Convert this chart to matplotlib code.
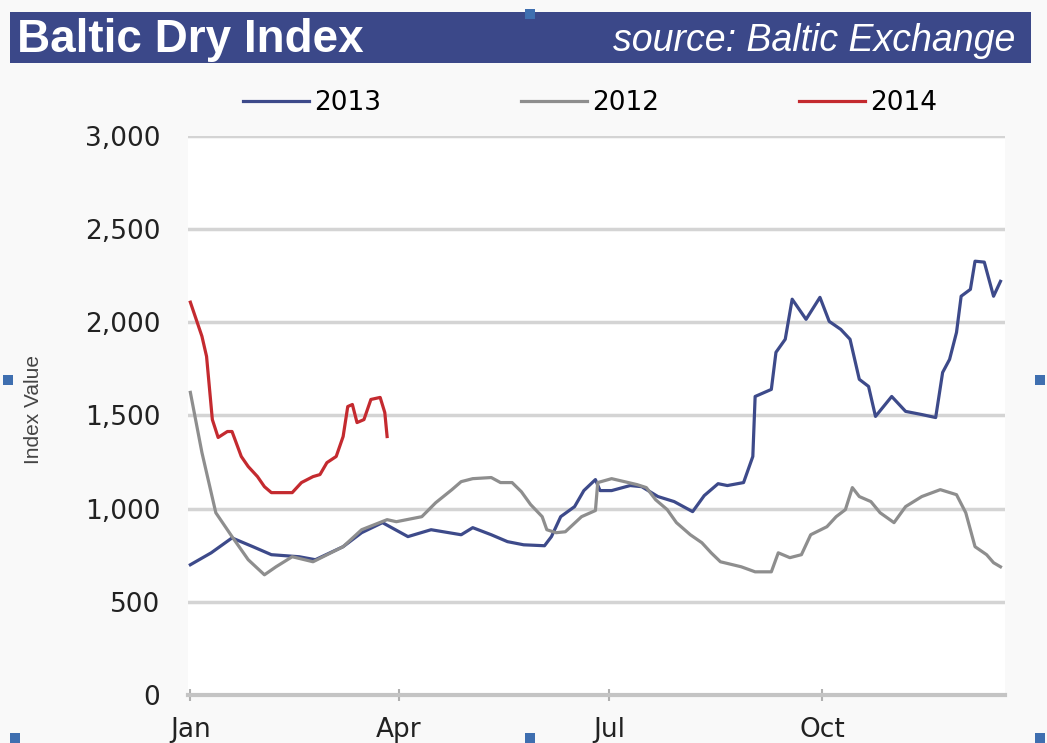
import matplotlib.pyplot as plt
from matplotlib.patches import Rectangle

plt.rcParams["font.family"] = ["Liberation Sans", "DejaVu Sans"]

# day-of-year positions and index values
days_2013 = [0, 9, 18, 27, 35, 47, 54, 66, 74, 83, 94, 104, 117, 122, 130, 137, 144, 153,
             156, 160, 166, 170, 175, 177, 182, 190, 195, 202, 209, 217, 222, 228, 232,
             239, 243, 244, 251, 253, 257, 260, 266, 272, 276, 281, 285, 289, 293, 296,
             303, 309, 316, 322, 325, 328, 331, 333, 337, 339, 343, 347, 350]
bdi_2013 = [699, 763, 843, 796, 753, 742, 726, 796, 871, 925, 850, 887, 860, 898, 860, 823,
            806, 801, 850, 957, 1011, 1097, 1156, 1097, 1097, 1124, 1118, 1065, 1038, 984,
            1070, 1134, 1124, 1140, 1280, 1602, 1640, 1839, 1909, 2124, 2016, 2134, 2005,
            1962, 1909, 1694, 1656, 1495, 1602, 1522, 1505, 1489, 1731, 1801, 1946, 2140,
            2177, 2328, 2323, 2140, 2220]

days_2012 = [0, 5, 11, 18, 25, 32, 37, 44, 53, 66, 74, 85, 89, 100, 106, 113, 117, 122,
             130, 134, 139, 143, 147, 152, 154, 158, 162, 169, 175, 176, 182, 193, 197,
             201, 206, 210, 216, 221, 225, 229, 238, 244, 251, 254, 259, 264, 268, 275,
             279, 283, 286, 289, 294, 298, 304, 309, 316, 324, 331, 335, 339, 344, 347, 350]
bdi_2012 = [1624, 1301, 978, 850, 726, 645, 688, 742, 715, 796, 887, 941, 930, 957, 1032,
            1102, 1145, 1161, 1167, 1140, 1140, 1091, 1022, 957, 887, 871, 876, 957, 990,
            1140, 1161, 1129, 1113, 1048, 995, 925, 860, 817, 763, 715, 688, 661, 661, 763,
            737, 753, 860, 903, 957, 995, 1113, 1065, 1038, 978, 925, 1011, 1065, 1102,
            1075, 978, 796, 753, 710, 688]

days_2014 = [0, 5, 7, 9.5, 12, 16, 18, 22, 25, 29, 32, 35, 44, 48, 53, 56, 59, 63, 66, 68,
             70, 72, 75, 78, 82, 84, 85]
bdi_2014 = [2108, 1925, 1817, 1478, 1382, 1414, 1414, 1280, 1226, 1172, 1118, 1086, 1086,
            1140, 1172, 1183, 1247, 1280, 1387, 1548, 1559, 1462, 1478, 1586, 1597, 1516, 1387]

month_ticks = [0, 90, 181, 273]
month_labels = ["Jan", "Apr", "Jul", "Oct"]
y_ticks = [0, 500, 1000, 1500, 2000, 2500, 3000]

BLUE = "#3d4a8a"
GRAY = "#8e8e8e"
RED = "#c42a2f"
BAR = "#3b4889"
WIDE = ["DejaVu Sans"]  # the reference text is stretched sideways

fig = plt.figure(figsize=(10.47, 7.43), dpi=100, facecolor="#f9f9f9")
ax = fig.add_axes([0.1796, 0.0646, 0.7804, 0.7524])
ax.set_facecolor("white")

ax.plot(days_2013, bdi_2013, color=BLUE, lw=2.3, label="2013")
ax.plot(days_2012, bdi_2012, color=GRAY, lw=2.3, label="2012")
ax.plot(days_2014, bdi_2014, color=RED, lw=2.3, label="2014")

ax.set_xlim(-1, 352)
ax.set_ylim(0, 3000)
ax.set_yticks(y_ticks)
ax.set_yticklabels([f"{v:,}" for v in y_ticks], fontsize=19, color="#222222", family=WIDE)
ax.set_xticks(month_ticks)
ax.set_xticklabels(month_labels, fontsize=19, color="#222222", family=WIDE)
ax.tick_params(axis="y", length=0, pad=20)
ax.tick_params(axis="x", length=8, width=1.5, color="#b0b0b0", direction="inout", pad=12)
ax.grid(axis="y", color="#d4d4d4", lw=2.5)
ax.set_axisbelow(True)
for s in ["top", "right", "left"]:
    ax.spines[s].set_visible(False)
ax.spines["bottom"].set_color("#c4c4c4")
ax.spines["bottom"].set_linewidth(3)
ax.set_ylabel("Index Value", fontsize=15, color="#444444")
ax.yaxis.set_label_coords(-0.178, 0.51)

ax.legend(loc="center", bbox_to_anchor=(0.492, 1.059), ncol=3, frameon=False,
          prop={"family": WIDE, "size": 19}, handlelength=2.5, columnspacing=5.3,
          handletextpad=0.2)

# title bar
fig.patches.append(Rectangle((0.01, 1 - 63 / 743), 0.975, 51 / 743, transform=fig.transFigure,
                             facecolor=BAR, edgecolor="none"))
fig.text(0.016, 1 - 40 / 743, "Baltic Dry Index", color="white", fontsize=33,
         fontweight="bold", va="center", ha="left")
fig.text(0.97, 1 - 41 / 743, "source: Baltic Exchange", color="white", fontsize=27,
         style="italic", va="center", ha="right")

# selection handles
for hx, hy in [(8, 380), (1040, 380), (530, 738), (15, 738), (1040, 738), (530, 14)]:
    fig.patches.append(Rectangle(((hx - 5) / 1047, 1 - (hy + 5) / 743), 10 / 1047, 10 / 743,
                                 transform=fig.transFigure, facecolor="#3f6fb0",
                                 edgecolor="none"))

fig.savefig("out.png", dpi=100, facecolor=fig.get_facecolor())
